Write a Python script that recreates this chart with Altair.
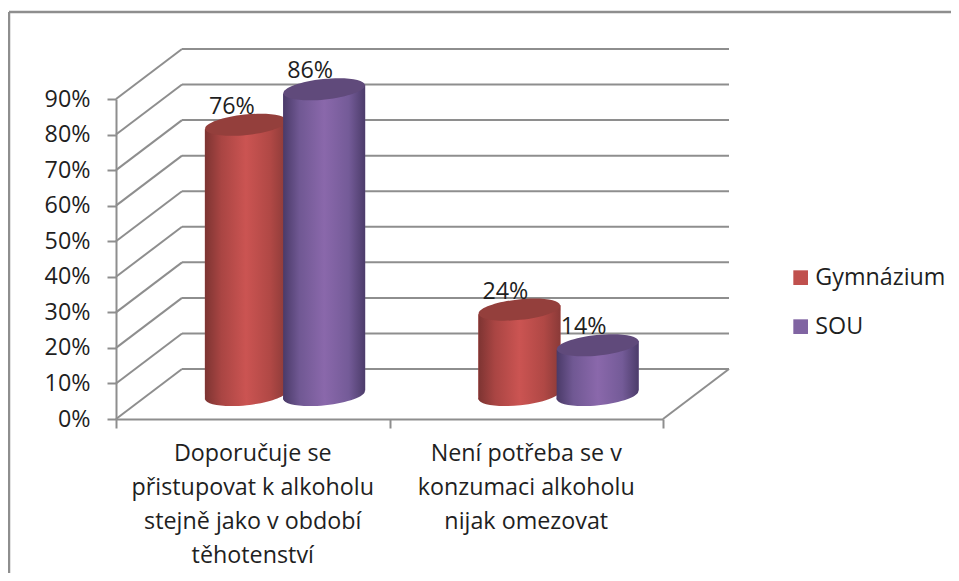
import altair as alt
import pandas as pd

categories = ["Doporučuje se|přistupovat k alkoholu|stejně jako v období|těhotenství",
              "Není potřeba se v|konzumaci alkoholu|nijak omezovat"]
series = ["Gymnázium", "SOU"]
gymnazium = [76, 24]
sou = [86, 14]
ticks = [0, 10, 20, 30, 40, 50, 60, 70, 80, 90]

FONT = "Open Sans"
FS = 23.3
TXT = "#1f1f1f"
GRID = "#8e8e8e"
W, H = 547, 320
XS = alt.Scale(domain=[0, 2], nice=False, zero=False)
YS = alt.Scale(domain=[0, 90], nice=False, zero=False)
XAX = alt.Axis(values=[0, 1, 2], labels=False, grid=False, tickSize=9, tickWidth=2,
               tickColor=GRID, domainColor=GRID, domainWidth=2, title=None)
YAX = alt.Axis(values=ticks, labelExpr="datum.value + '%'", grid=False, tickSize=9, tickWidth=2,
               tickColor=GRID, domainColor=GRID, domainWidth=2, labelFont=FONT, labelFontSize=FS,
               labelColor=TXT, labelPadding=17, title=None)


def X(field):
    return alt.X(field, scale=XS, axis=XAX, title=None)


def Y(field, **kw):
    return alt.Y(field, scale=YS, axis=YAX, title=None, **kw)


# depth of the 3D box in axis units
DX = 66 / (W / 2)
DY = 50 / (H / 90)
MID = 24 / (H / 90)      # floor position of the cylinders
TILT = 4.5 / (H / 90)
OFFS = [0.475, 0.761]
HALF = 41 / (W / 2)

grid_rows = []
for p in ticks:
    grid_rows.append(dict(x0=DX, x1=2 + DX, y0=p + DY, y1=p + DY))
    grid_rows.append(dict(x0=0, x1=DX, y0=p, y1=p + DY))
grid_rows.append(dict(x0=2, x1=2 + DX, y0=0, y1=DY))
grid_df = pd.DataFrame(grid_rows)

grid = alt.Chart(grid_df).mark_rule(color=GRID, strokeWidth=2).encode(
    x=X("x0:Q"), x2="x1:Q", y=Y("y0:Q"), y2="y1:Q")

frame = alt.Chart(pd.DataFrame({"k": [0]})).mark_rule(color=GRID, strokeWidth=2.5)
frame_top = frame.encode(x=alt.value(-107), x2=alt.value(835), y=alt.value(-87))
frame_left = frame.encode(x=alt.value(-107), y=alt.value(-87), y2=alt.value(474))

body_rows, cap_rows = [], []
for j, (s, vals) in enumerate(zip(series, [gymnazium, sou])):
    for i, v in enumerate(vals):
        c = i + OFFS[j]
        cap_rows.append(dict(series=s, cx=c, top=v + MID, base=MID, label=f"{v}%"))
        for side in (-1, 1):
            body_rows.append(dict(series=s, id=f"{s}{i}", x=c + side * HALF,
                                  top=v + MID + side * TILT, base=MID + side * TILT))
body_df = pd.DataFrame(body_rows)
cap_df = pd.DataFrame(cap_rows)


def grad(stops):
    return alt.Gradient(gradient="linear", x1=0, y1=0, x2=1, y2=0,
                        stops=[alt.GradientStop(offset=o, color=c) for o, c in stops])


GRADS = {
    "Gymnázium": grad([(0, "#7d3432"), (0.2, "#a94543"), (0.5, "#cb5452"), (0.8, "#b04845"), (1, "#8a3a38")]),
    "SOU": grad([(0, "#4a3a68"), (0.2, "#705893"), (0.5, "#8a68ab"), (0.8, "#745b98"), (1, "#4c3c6a")]),
}
TOPS = {"Gymnázium": "#943f3c", "SOU": "#604a7b"}
ELLIPSE = "M-1,0A1,0.25,0,1,1,1,0A1,0.25,0,1,1,-1,0Z"

solid = alt.Chart(body_df).mark_area().encode(
    x=X("x:Q"),
    y=Y("top:Q", stack=None),
    y2="base:Q",
    detail="id:N",
    color=alt.Color("series:N", scale=alt.Scale(domain=series, range=["#c0504d", "#8064a2"]),
                    legend=alt.Legend(title=None, orient="none", legendX=673, legendY=167, symbolType="square",
                                      symbolSize=215, symbolStrokeWidth=0, labelFont=FONT, labelFontSize=FS,
                                      labelColor=TXT, labelOffset=3, rowPadding=25, padding=0)),
)

layers = [frame_top, frame_left, grid, solid]
for s in series:
    b = body_df[body_df.series == s]
    c = cap_df[cap_df.series == s]
    bottom = alt.Chart(c).mark_point(shape=ELLIPSE, filled=True, size=6724, angle=354, opacity=1,
                                     fill=GRADS[s]).encode(x=X("cx:Q"), y=Y("base:Q"))
    side = alt.Chart(b).mark_area(fill=GRADS[s]).encode(
        x=X("x:Q"), y=Y("top:Q", stack=None), y2="base:Q", detail="id:N")
    top = alt.Chart(c).mark_point(shape=ELLIPSE, filled=True, size=6724, angle=354, opacity=1,
                                  fill=TOPS[s]).encode(x=X("cx:Q"), y=Y("top:Q"))
    layers += [bottom, side, top]

labels = alt.Chart(cap_df).mark_text(font=FONT, fontSize=FS, color=TXT, dx=-14, dy=-18, baseline="middle").encode(
    x=X("cx:Q"), y=Y("top:Q"), text="label:N")

cat_df = pd.DataFrame({"c": [i + 0.5 for i in range(len(categories))], "v": [0] * len(categories), "t": categories})
cat_text = alt.Chart(cat_df).mark_text(font=FONT, fontSize=FS, color=TXT, lineBreak="|", lineHeight=34,
                                       baseline="top", dy=24).encode(
    x=X("c:Q"), y=Y("v:Q"), text="t:N")

layers += [labels, cat_text]

chart = alt.layer(*layers).properties(
    width=W, height=H,
    autosize=alt.AutoSizeParams(type="none"),
    padding={"left": 108, "top": 91, "right": 288, "bottom": 154},
).configure_view(stroke=None)

chart.save("out.html", embed_options={"renderer": "svg", "actions": False})
